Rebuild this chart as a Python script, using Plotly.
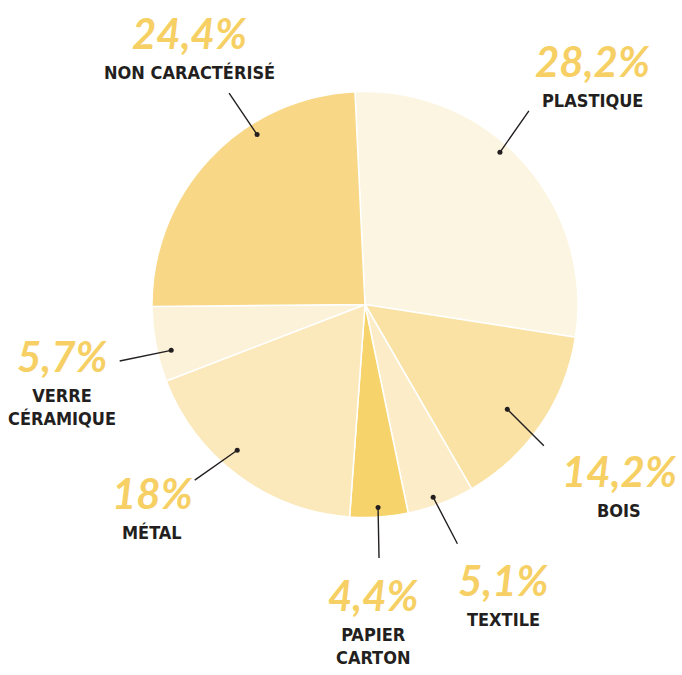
import math
import plotly.graph_objects as go

# ---- data ----
categories = ["PLASTIQUE", "BOIS", "TEXTILE", "PAPIER<br>CARTON", "MÉTAL", "VERRE<br>CÉRAMIQUE", "NON CARACTÉRISÉ"]
values = [28.2, 14.2, 5.1, 4.4, 18.0, 5.7, 24.4]
pct_labels = ["28,2%", "14,2%", "5,1%", "4,4%", "18%", "5,7%", "24,4%"]

# ---- style ----
slice_colors = ["#FCF5E1", "#F9E2A3", "#FCEDC8", "#F7D36B", "#FBE9BC", "#FCF2DA", "#F8D886"]
W, H = 682, 675
CX, CY, R = 365, 304.5, 213
ROT = -2.7
# per-slice leader styling: angle nudge (deg), dot radius fraction, leader dx, dy (px)
dot_nudge = [-6.5, 2.0, 1.4, 0.1, 4.7, -2.5, 14.2]
dot_rf = [0.955, 0.83, 0.96, 0.955, 0.91, 0.935, 0.945]
lead = [(30, -43), (38, 38), (25, 48), (1, 52), (-44, 31), (-53, 11), (-29, -43)]
# name centre (px) (first line centre), pct text sits above
name_pos = [(592, 99), (619, 509), (503, 618), (373, 633), (152, 531), (62, 394), (190, 71)]
PCT_GAP = 38

PCT_COLOR = "#F6D064"
TXT_COLOR = "#231F20"
NAME_SIZE = 18

fig = go.Figure(go.Pie(
    labels=categories, values=values, sort=False, direction="clockwise",
    rotation=ROT, textinfo="none", hoverinfo="label+percent",
    marker=dict(colors=slice_colors, line=dict(color="white", width=1.5)),
    domain=dict(x=[(CX - R) / W, (CX + R) / W], y=[1 - (CY + R) / H, 1 - (CY - R) / H]),
    showlegend=False,
))

total = sum(values)
cum = 0.0
annotations = []
for i, v in enumerate(values):
    mid = ROT + (cum + v / 2) / total * 360 + dot_nudge[i]
    cum += v
    a = math.radians(mid)
    dx = CX + dot_rf[i] * R * math.sin(a)
    dy = CY - dot_rf[i] * R * math.cos(a)
    annotations.append(dict(
        x=dx / W, y=1 - dy / H, xref="paper", yref="paper",
        ax=lead[i][0], ay=lead[i][1], text="", showarrow=True,
        arrowhead=6, arrowsize=0.9, arrowwidth=1.4, arrowcolor=TXT_COLOR,
    ))
    nx, ny = name_pos[i]
    annotations.append(dict(
        x=nx / W, y=1 - (ny - PCT_GAP) / H, xref="paper", yref="paper", showarrow=False,
        text="<i><b>" + pct_labels[i] + "</b></i>", xanchor="center", yanchor="middle",
        font=dict(family="Lato, 'Open Sans', sans-serif", size=42, color=PCT_COLOR, weight=900),
    ))
    annotations.append(dict(
        x=nx / W, y=1 - (ny - NAME_SIZE * 0.62) / H, xref="paper", yref="paper", showarrow=False,
        text=categories[i], xanchor="center", yanchor="top",
        font=dict(family="'DejaVu Sans Condensed', 'Liberation Sans Narrow', sans-serif",
                  size=NAME_SIZE, color=TXT_COLOR, weight=700),
    ))

fig.update_layout(
    width=W, height=H, margin=dict(l=0, r=0, t=0, b=0),
    paper_bgcolor="white", plot_bgcolor="white",
    annotations=annotations,
)
fig.write_html("out.html")
